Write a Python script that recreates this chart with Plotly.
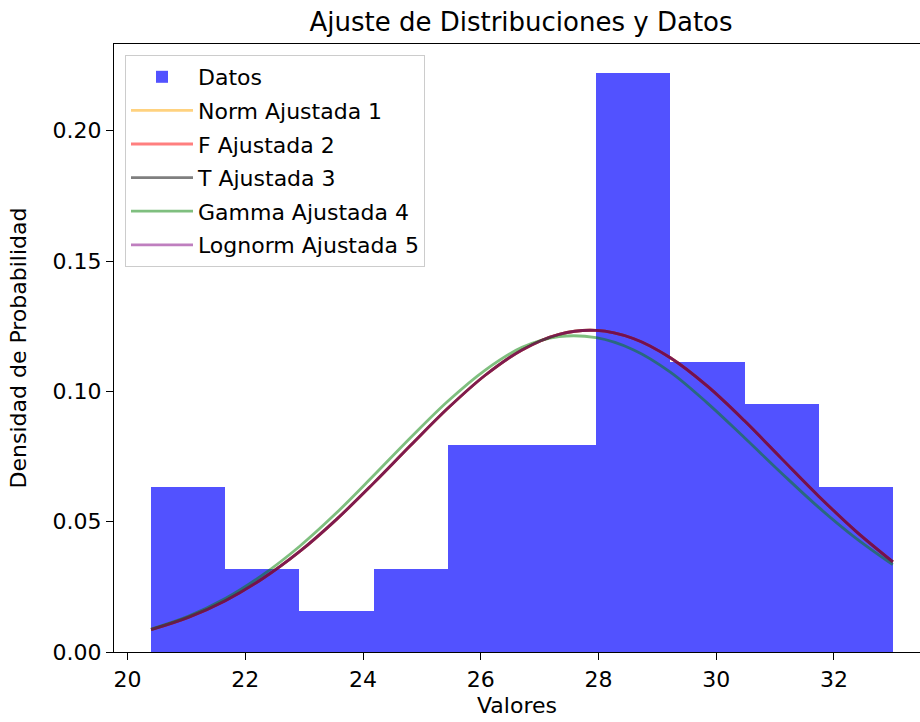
import plotly.graph_objects as go

# Histogram data (density)
bin_edges = [20.40, 21.66, 22.92, 24.18, 25.44, 26.70, 27.96, 29.22, 30.48, 31.74, 33.00]
densidad = [0.0635, 0.0317, 0.0159, 0.0317, 0.0794, 0.0794, 0.2222, 0.1111, 0.0952, 0.0635]

# Fitted curves
x_curve = [20.40, 21.03, 21.66, 22.29, 22.92, 23.55, 24.18, 24.81, 25.44, 26.07, 26.70,
           27.33, 27.96, 28.59, 29.22, 29.85, 30.48, 31.11, 31.74, 32.37, 33.00]
norm_pdf = [0.0086, 0.0133, 0.0197, 0.0281, 0.0385, 0.0509, 0.0648, 0.0793, 0.0935, 0.1061, 0.1159,
            0.1219, 0.1234, 0.1203, 0.1129, 0.1020, 0.0887, 0.0742, 0.0598, 0.0464, 0.0346]
f_pdf = [0.0086, 0.0133, 0.0197, 0.0281, 0.0385, 0.0509, 0.0648, 0.0793, 0.0935, 0.1061, 0.1159,
         0.1219, 0.1234, 0.1203, 0.1129, 0.1020, 0.0887, 0.0742, 0.0598, 0.0464, 0.0346]
t_pdf = [0.0086, 0.0133, 0.0197, 0.0281, 0.0385, 0.0509, 0.0648, 0.0793, 0.0935, 0.1061, 0.1159,
         0.1219, 0.1234, 0.1203, 0.1129, 0.1020, 0.0887, 0.0742, 0.0598, 0.0464, 0.0346]
gamma_pdf = [0.0088, 0.0137, 0.0205, 0.0295, 0.0405, 0.0534, 0.0677, 0.0823, 0.0962, 0.1081, 0.1169,
             0.1210, 0.1206, 0.1160, 0.1074, 0.0955, 0.0822, 0.0686, 0.0555, 0.0437, 0.0335]
lognorm_pdf = [0.0086, 0.0133, 0.0197, 0.0281, 0.0385, 0.0509, 0.0648, 0.0793, 0.0935, 0.1061, 0.1159,
               0.1219, 0.1234, 0.1203, 0.1129, 0.1020, 0.0887, 0.0742, 0.0598, 0.0464, 0.0346]

x_ticks = [20, 22, 24, 26, 28, 30, 32]
y_ticks = [0.00, 0.05, 0.10, 0.15, 0.20]

centers = [(bin_edges[i] + bin_edges[i + 1]) / 2 for i in range(len(densidad))]
widths = [bin_edges[i + 1] - bin_edges[i] for i in range(len(densidad))]

FONT = "DejaVu Sans"
fig = go.Figure()
fig.add_trace(go.Bar(x=centers, y=densidad, width=widths, name="Datos",
                     marker=dict(color="rgba(0,0,255,0.68)", line=dict(width=0)),
                     legendgroup="g0"))

curves = [
    ("Norm Ajustada 1", norm_pdf, "rgba(255,165,0,0.5)"),
    ("F Ajustada 2", f_pdf, "rgba(255,0,0,0.5)"),
    ("T Ajustada 3", t_pdf, "rgba(0,0,0,0.5)"),
    ("Gamma Ajustada 4", gamma_pdf, "rgba(0,128,0,0.5)"),
    ("Lognorm Ajustada 5", lognorm_pdf, "rgba(128,0,128,0.5)"),
]
for i, (name, ys, col) in enumerate(curves):
    fig.add_trace(go.Scatter(x=x_curve, y=ys, mode="lines", name=name,
                             line=dict(color=col, width=2.8, shape="spline"),
                             legendgroup="g%d" % (i + 1)))

W, H = 920, 722
L, T, B = 114, 44, 70
px_per_unit = 58.87
x0 = 19.77
x1 = x0 + (W - L) / px_per_unit

fig.update_layout(
    width=W, height=H,
    margin=dict(l=L, r=0, t=T, b=B, pad=0),
    paper_bgcolor="white", plot_bgcolor="white",
    bargap=0,
    font=dict(family=FONT, size=22, color="black"),
    title=dict(text="Ajuste de Distribuciones y Datos", x=521 / W, xref="container",
               xanchor="center", y=1 - 22 / H, yref="container", yanchor="middle",
               font=dict(size=26, family=FONT, color="black")),
    xaxis=dict(range=[x0, x1], tickvals=x_ticks, ticktext=[str(v) for v in x_ticks],
               showgrid=False, zeroline=False, showline=True, linecolor="black",
               linewidth=1.3, mirror=True, ticks="outside", ticklen=7, tickwidth=1.3,
               tickcolor="black", tickfont=dict(size=22, family=FONT),
               title=dict(text="Valores", font=dict(size=22, family=FONT), standoff=7)),
    yaxis=dict(range=[0, 0.2333], tickvals=y_ticks, ticktext=["%.2f" % v for v in y_ticks],
               showgrid=False, zeroline=False, showline=True, linecolor="black",
               linewidth=1.3, ticks="outside", ticklen=7, tickwidth=1.3, tickcolor="black",
               tickfont=dict(size=22, family=FONT),
               title=dict(text="Densidad de Probabilidad", font=dict(size=22, family=FONT),
                          standoff=19)),
    legend=dict(x=(125 - L) / (W - L), y=(652 - 55) / (H - T - B), xanchor="left",
                yanchor="top", bgcolor="rgba(255,255,255,0.8)", bordercolor="#cccccc",
                borderwidth=1, font=dict(size=22, family=FONT), itemwidth=62,
                tracegroupgap=2, traceorder="grouped"),
    showlegend=True,
)

fig.write_html("out.html")
